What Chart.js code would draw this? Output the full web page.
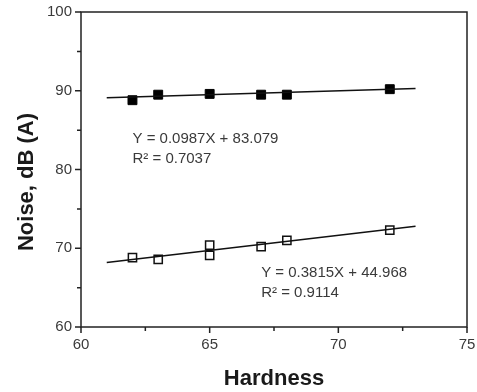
<!DOCTYPE html>
<html>
<head>
<meta charset="utf-8">
<script src="https://cdn.jsdelivr.net/npm/chart.js@4.4.1/dist/chart.umd.min.js"></script>
<style>
  html, body { margin: 0; padding: 0; background: #fff; }
  #wrap { width: 477px; height: 392px; }
</style>
</head>
<body>
<div id="wrap"><canvas id="noiseChart"></canvas></div>
<script>
// Data
const hardnessFilled = [62, 63, 65, 67, 68, 72];
const noiseFilled = [88.8, 89.5, 89.6, 89.5, 89.5, 90.2];
const hardnessOpen = [62, 63, 65, 65, 67, 68, 72];
const noiseOpen = [68.8, 68.6, 70.4, 69.1, 70.2, 71.0, 72.3];

// fitted lines (end points)
const fitX = [61, 73];
const fitFilled = [89.1, 90.3];
const fitOpen = [68.2, 72.8];

// equation labels, anchored in data units
const eqFilled = ['Y = 0.0987X + 83.079', 'R² = 0.7037'];
const eqFilledAt = [62, 83.4];
const eqOpen = ['Y = 0.3815X + 44.968', 'R² = 0.9114'];
const eqOpenAt = [67, 66.4];

const xTicks = [60, 65, 70, 75];
const yTicks = [60, 70, 80, 90, 100];

const FONT = "'Liberation Sans', Arial, sans-serif";

const toPoints = (xs, ys) => xs.map((x, i) => ({ x: x, y: ys[i] }));

// no extra room for overflowing tick labels, layout padding decides
function noScalePadding(scale) {
    scale.paddingLeft = 0;
    scale.paddingRight = 0;
    scale.paddingTop = 0;
    scale.paddingBottom = 0;
}

// frame, minor ticks, axis titles and equations
const decorPlugin = {
    id: 'decor',
    afterDraw(chart) {
        const ctx = chart.ctx;
        const area = chart.chartArea;
        const xs = chart.scales.x;
        const ys = chart.scales.y;
        ctx.save();
        ctx.strokeStyle = '#222';
        ctx.lineWidth = 1.5;
        ctx.strokeRect(area.left, area.top, area.right - area.left, area.bottom - area.top);

        // tick marks
        ctx.beginPath();
        for (let v = 60; v <= 75; v += 2.5) {
            const px = xs.getPixelForValue(v);
            const len = v % 5 === 0 ? 6 : 4;
            ctx.moveTo(px, area.bottom);
            ctx.lineTo(px, area.bottom + len);
        }
        for (let v = 60; v <= 100; v += 5) {
            const py = ys.getPixelForValue(v);
            const len = v % 10 === 0 ? 6 : 4;
            ctx.moveTo(area.left, py);
            ctx.lineTo(area.left - len, py);
        }
        ctx.stroke();

        // axis titles
        ctx.fillStyle = '#1a1a1a';
        ctx.font = 'bold 22px ' + FONT;
        ctx.textAlign = 'center';
        ctx.textBaseline = 'middle';
        ctx.fillText('Hardness', (area.left + area.right) / 2, 379);
        ctx.save();
        ctx.translate(27, 182);
        ctx.rotate(-Math.PI / 2);
        ctx.fillText('Noise, dB (A)', 0, 0);
        ctx.restore();

        // regression equations
        ctx.fillStyle = '#3a3a3a';
        ctx.font = '15px ' + FONT;
        ctx.textAlign = 'left';
        ctx.textBaseline = 'alphabetic';
        [[eqFilled, eqFilledAt], [eqOpen, eqOpenAt]].forEach(([lines, at]) => {
            const px = xs.getPixelForValue(at[0]);
            const py = ys.getPixelForValue(at[1]);
            lines.forEach((t, i) => ctx.fillText(t, px, py + i * 20));
        });
        ctx.restore();
    }
};

new Chart(document.getElementById('noiseChart'), {
    type: 'scatter',
    data: {
        datasets: [
            {
                label: 'fit filled',
                data: toPoints(fitX, fitFilled),
                showLine: true,
                borderColor: '#111',
                borderWidth: 1.5,
                pointRadius: 0
            },
            {
                label: 'fit open',
                data: toPoints(fitX, fitOpen),
                showLine: true,
                borderColor: '#111',
                borderWidth: 1.5,
                pointRadius: 0
            },
            {
                label: 'filled',
                data: toPoints(hardnessFilled, noiseFilled),
                pointStyle: 'rect',
                pointRadius: 6.3,
                backgroundColor: '#000',
                borderColor: '#000',
                borderWidth: 1
            },
            {
                label: 'open',
                data: toPoints(hardnessOpen, noiseOpen),
                pointStyle: 'rect',
                pointRadius: 5.8,
                backgroundColor: '#fff',
                borderColor: '#111',
                borderWidth: 1.5
            }
        ]
    },
    options: {
        responsive: true,
        maintainAspectRatio: false,
        animation: false,
        layout: { padding: { top: 12, right: 10, left: 0, bottom: 0 } },
        plugins: {
            legend: { display: false },
            tooltip: { enabled: false }
        },
        scales: {
            x: {
                type: 'linear',
                min: 60,
                max: 75,
                afterFit: (scale) => { scale.height = 65; noScalePadding(scale); },
                afterBuildTicks: (scale) => { scale.ticks = xTicks.map(v => ({ value: v })); },
                grid: { display: false, drawTicks: false },
                border: { display: false },
                ticks: {
                    padding: 9,
                    color: '#3a3a3a',
                    font: { family: FONT, size: 15 }
                }
            },
            y: {
                type: 'linear',
                min: 60,
                max: 100,
                afterFit: (scale) => { scale.width = 81; noScalePadding(scale); },
                afterBuildTicks: (scale) => { scale.ticks = yTicks.map(v => ({ value: v })); },
                grid: { display: false, drawTicks: false },
                border: { display: false },
                ticks: {
                    padding: 9,
                    color: '#3a3a3a',
                    font: { family: FONT, size: 15 }
                }
            }
        }
    },
    plugins: [decorPlugin]
});
</script>
</body>
</html>
